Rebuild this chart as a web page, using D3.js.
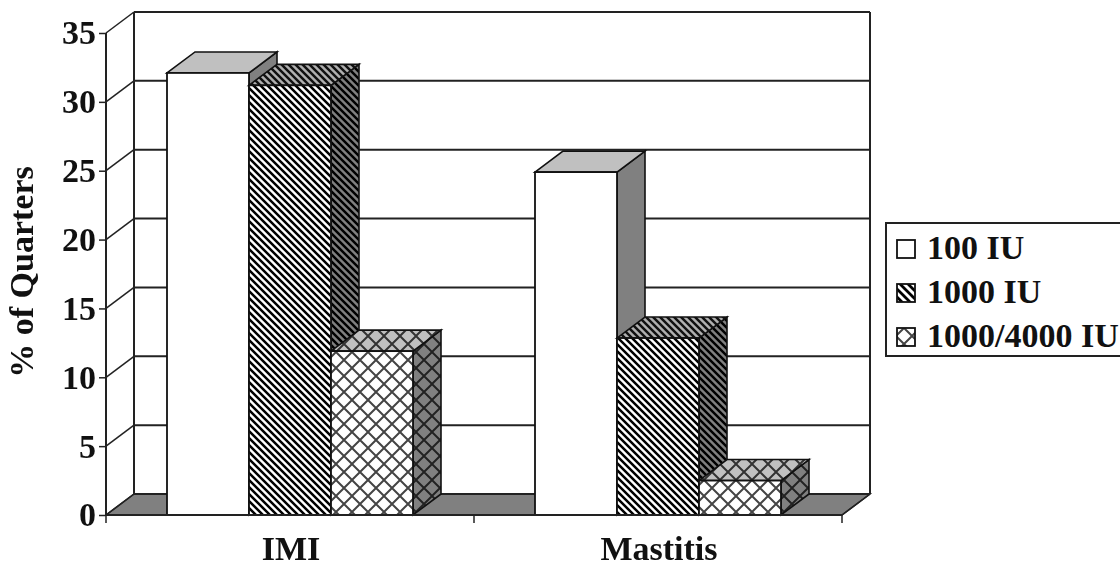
<!DOCTYPE html>
<html>
<head>
<meta charset="utf-8">
<script src="https://d3js.org/d3.v7.min.js"></script>
<style>
  html, body { margin: 0; padding: 0; background: #fff; overflow: hidden; }
  svg { display: block; filter: blur(0.5px); }
  text { font-family: "Liberation Serif", serif; font-weight: bold; fill: #111; }
</style>
</head>
<body>
<svg id="chart" width="1120" height="563"></svg>
<script>
// values
const categories = ["IMI", "Mastitis"];
const seriesNames = ["100 IU", "1000 IU", "1000/4000 IU"];
const imiValues = [32.1, 31.2, 11.9];
const mastitisValues = [24.9, 12.85, 2.5];
const yTicks = [0, 5, 10, 15, 20, 25, 30, 35];
const yLabel = "% of Quarters";

const svg = d3.select("#chart");
const lineColor = "#222";
const fontSize = 34;

// 3d depth of the box, in px
const dx = 28, dy = -21;
const plotLeft = 106, plotRight = 842, plotTop = 33, plotBottom = 515;

const y = d3.scaleLinear().domain([0, 35]).range([plotBottom, plotTop]);
const x0 = d3.scaleBand().domain(categories).range([plotLeft, plotRight]);
const x1 = d3.scaleBand().domain(seriesNames).range([61, 307]);

// patterns
const defs = svg.append("defs");
function hatch(id, bg, fg, size, sw) {
  let p = defs.append("pattern").attr("id", id).attr("patternUnits", "userSpaceOnUse")
    .attr("width", size).attr("height", size);
  p.append("rect").attr("width", size).attr("height", size).attr("fill", bg);
  p.append("path")
    .attr("d", `M0,0 L${size},${size} M${-size / 2},${size / 2} L${size / 2},${size * 1.5} M${size / 2},${-size / 2} L${size * 1.5},${size / 2}`)
    .attr("stroke", fg).attr("stroke-width", sw).attr("fill", "none");
}
function cross(id, bg, fg) {
  let p = defs.append("pattern").attr("id", id).attr("patternUnits", "userSpaceOnUse")
    .attr("width", 16).attr("height", 16);
  p.append("rect").attr("width", 16).attr("height", 16).attr("fill", bg);
  p.append("path").attr("d", "M0,0 L16,16 M16,0 L0,16")
    .attr("stroke", fg).attr("stroke-width", 2).attr("fill", "none");
}
hatch("hFront", "#fff", "#000", 7, 2.5);
hatch("hTop", "#b0b0b0", "#111", 7, 2.5);
hatch("hSide", "#808080", "#000", 7, 2.5);
hatch("hLegend", "#fff", "#000", 8, 2.8);
cross("cFront", "#fff", "#444");
cross("cTop", "#c0c0c0", "#333");
cross("cSide", "#808080", "#222");

const fills = [
  { front: "#fff", top: "#c0c0c0", side: "#808080" },
  { front: "url(#hFront)", top: "url(#hTop)", side: "url(#hSide)" },
  { front: "url(#cFront)", top: "url(#cTop)", side: "url(#cSide)" }
];

// floor
svg.append("polygon")
  .attr("points", [[plotLeft, plotBottom], [plotLeft + dx, plotBottom + dy], [plotRight + dx, plotBottom + dy], [plotRight, plotBottom]].join(" "))
  .attr("fill", "#808080").attr("stroke", lineColor).attr("stroke-width", 1.5);

// back wall gridlines and the diagonals on the side wall
yTicks.forEach(t => {
  svg.append("line").attr("x1", plotLeft + dx).attr("x2", plotRight + dx)
    .attr("y1", y(t) + dy).attr("y2", y(t) + dy)
    .attr("stroke", lineColor).attr("stroke-width", 2);
  svg.append("line").attr("x1", plotLeft).attr("x2", plotLeft + dx)
    .attr("y1", y(t)).attr("y2", y(t) + dy)
    .attr("stroke", lineColor).attr("stroke-width", 1.5);
});

// wall edges
svg.append("line").attr("x1", plotLeft + dx).attr("x2", plotLeft + dx)
  .attr("y1", y(0) + dy).attr("y2", y(35) + dy).attr("stroke", lineColor).attr("stroke-width", 2);
svg.append("line").attr("x1", plotRight + dx).attr("x2", plotRight + dx)
  .attr("y1", y(0) + dy).attr("y2", y(35) + dy).attr("stroke", lineColor).attr("stroke-width", 2);
svg.append("line").attr("x1", plotRight).attr("x2", plotRight + dx)
  .attr("y1", y(0)).attr("y2", y(0) + dy).attr("stroke", lineColor).attr("stroke-width", 1.5);

// bars, back to front
function drawBar(g, xa, xb, v, f) {
  let yt = y(v), yb = y(0);
  g.append("polygon")
    .attr("points", [[xb, yt], [xb + dx, yt + dy], [xb + dx, yb + dy], [xb, yb]].join(" "))
    .attr("fill", f.side).attr("stroke", "#111").attr("stroke-width", 1.6);
  g.append("polygon")
    .attr("points", [[xa, yt], [xa + dx, yt + dy], [xb + dx, yt + dy], [xb, yt]].join(" "))
    .attr("fill", f.top).attr("stroke", "#111").attr("stroke-width", 1.6);
  g.append("rect").attr("x", xa).attr("y", yt).attr("width", xb - xa).attr("height", yb - yt)
    .attr("fill", f.front).attr("stroke", "#111").attr("stroke-width", 1.8);
}

const bars = svg.append("g");
[imiValues, mastitisValues].forEach((vals, c) => {
  vals.forEach((v, i) => {
    let xa = x0(categories[c]) + x1(seriesNames[i]);
    drawBar(bars, xa, xa + x1.bandwidth(), v, fills[i]);
  });
});

// front axes
svg.append("line").attr("x1", plotLeft).attr("x2", plotLeft).attr("y1", y(0)).attr("y2", y(35))
  .attr("stroke", lineColor).attr("stroke-width", 2);
svg.append("line").attr("x1", plotLeft).attr("x2", plotRight).attr("y1", y(0)).attr("y2", y(0))
  .attr("stroke", lineColor).attr("stroke-width", 2);

const yAxis = svg.append("g")
  .attr("transform", "translate(" + [plotLeft, 0] + ")")
  .call(d3.axisLeft(y).tickValues(yTicks).tickSize(7).tickPadding(3));
yAxis.select(".domain").remove();
yAxis.selectAll("line").attr("stroke", lineColor).attr("stroke-width", 1.5);
yAxis.selectAll("text").attr("font-size", fontSize).attr("font-family", "Liberation Serif").attr("fill", "#111");

const xTickVals = [plotLeft, plotLeft + x0.bandwidth(), plotRight];
svg.selectAll(".xtick").data(xTickVals).enter().append("line")
  .attr("x1", d => d).attr("x2", d => d).attr("y1", y(0)).attr("y2", y(0) + 8)
  .attr("stroke", lineColor).attr("stroke-width", 1.5);

svg.selectAll(".cat").data(categories).enter().append("text")
  .attr("x", d => x0(d) + x0.bandwidth() / 2 + 1).attr("y", 560)
  .attr("text-anchor", "middle").attr("font-size", fontSize).text(d => d);

svg.append("text").attr("transform", "translate(33,272) rotate(-90)")
  .attr("text-anchor", "middle").attr("font-size", fontSize).text(yLabel);

// legend
const legend = svg.append("g");
legend.append("rect").attr("x", 886).attr("y", 223).attr("width", 260).attr("height", 133)
  .attr("fill", "#fff").attr("stroke", lineColor).attr("stroke-width", 2);
const legendY = d3.scalePoint().domain(seriesNames).range([249, 337]);
const swatchFill = ["#fff", "url(#hLegend)", "url(#cFront)"];
seriesNames.forEach((s, i) => {
  legend.append("rect").attr("x", 897).attr("y", legendY(s) - 9).attr("width", 18).attr("height", 18)
    .attr("fill", swatchFill[i]).attr("stroke", "#111").attr("stroke-width", 1.8);
  legend.append("text").attr("x", 927).attr("y", legendY(s) + 9.5)
    .attr("font-size", fontSize).text(s);
});
</script>
</body>
</html>
